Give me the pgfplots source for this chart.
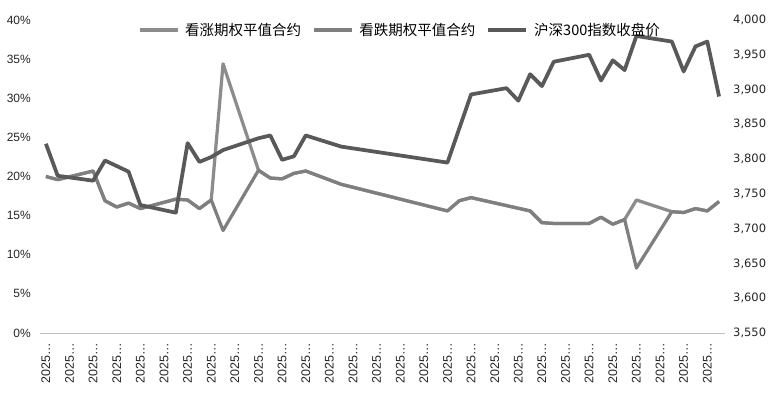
\documentclass[border=0pt]{standalone}
\usepackage{pgfplots}
\usepackage{pgfplotstable}
\pgfplotsset{compat=1.18}
\usepackage{fontspec}
\setmainfont{Liberation Sans}
\newfontfamily\cjk{Noto Sans CJK SC}
\newfontfamily\dejavu{DejaVu Sans}
\definecolor{callc}{HTML}{8C8C8C}
\definecolor{putc}{HTML}{7F7F7F}
\definecolor{hsc}{HTML}{595959}
\definecolor{tickc}{HTML}{262626}

\pgfplotstableread{
x y
0 20.0
1 19.6
4 20.7
5 16.9
6 16.1
7 16.6
8 15.9
11 17.1
12 17.0
13 15.9
14 17.0
15 34.4
18 20.8
19 19.8
20 19.7
21 20.4
22 20.7
25 19.0
34 15.6
35 16.9
36 17.3
41 15.6
42 14.1
43 14.0
46 14.0
47 14.8
48 13.9
49 14.5
50 17.0
53 15.5
54 15.4
55 15.9
56 15.6
57 16.8
}\calltable

\pgfplotstableread{
x y
0 20.0
1 19.6
4 20.7
5 16.9
6 16.1
7 16.6
8 15.9
11 17.1
12 17.0
13 15.9
14 17.0
15 13.1
18 20.8
19 19.8
20 19.7
21 20.4
22 20.7
25 19.0
34 15.6
35 16.9
36 17.3
41 15.6
42 14.1
43 14.0
46 14.0
47 14.8
48 13.9
49 14.5
50 8.3
53 15.5
54 15.4
55 15.9
56 15.6
57 16.8
}\puttable

\pgfplotstableread{
x y
0 3822
1 3776
4 3769
5 3798
6 3790
7 3782
8 3734
11 3723
12 3823
13 3796
14 3803
15 3813
18 3830
19 3834
20 3799
21 3804
22 3834
25 3818
34 3795
36 3893
39 3902
40 3884
41 3922
42 3905
43 3940
46 3950
47 3913
48 3942
49 3928
50 3977
53 3969
54 3926
55 3962
56 3969
57 3890
}\hstable

\begin{document}
\begin{tikzpicture}
\begin{axis}[
  scale only axis, width=685bp, height=313bp,
  xmin=-0.5, xmax=57.5, ymin=0, ymax=40,
  axis x line*=bottom, axis y line*=left,
  x axis line style={draw=black!25, line width=1bp, -},
  y axis line style={draw=none},
  major tick length=0pt,
  xtick={0,2,...,56}, xticklabel={2025…},
  xticklabel style={rotate=90, anchor=east, inner sep=0pt, font=\fontsize{12.5bp}{14bp}\selectfont, text=tickc},
  xticklabel shift=10bp,
  ytick={0,5,...,40},
  yticklabels={0\%,5\%,10\%,15\%,20\%,25\%,30\%,35\%,40\%},
  yticklabel style={anchor=east, inner sep=0pt, font=\fontsize{12bp}{14bp}\selectfont, text=tickc},
  yticklabel shift=9bp,
  clip=false,
]
\addplot[callc, line width=3.25bp, line join=round] table[x=x,y=y] {\calltable};
\addplot[putc, line width=3.25bp, line join=round] table[x=x,y=y] {\puttable};
\end{axis}
\begin{axis}[
  scale only axis, width=685bp, height=313bp,
  xmin=-0.5, xmax=57.5, ymin=3550, ymax=4000,
  axis x line=none, axis y line*=right,
  y axis line style={draw=none},
  major tick length=0pt,
  ytick={3550,3600,...,4000},
  yticklabels={{3,550},{3,600},{3,650},{3,700},{3,750},{3,800},{3,850},{3,900},{3,950},{4,000}},
  yticklabel style={anchor=west, inner sep=0pt, font=\dejavu\fontsize{11.5bp}{14bp}\selectfont, text=tickc},
  yticklabel shift=8bp,
  clip=false,
  legend style={at={(0.524,0.968)}, anchor=center, draw=none, fill=none,
    font=\cjk\fontsize{14.5bp}{17bp}\selectfont, inner sep=0pt, text=black,
    nodes={inner sep=0pt},
    /tikz/every odd column/.append style={column sep=6bp},
    /tikz/every even column/.append style={column sep=11bp}},
  legend columns=3,
  legend image code/.code={\draw[#1] (0bp,0bp) -- (38bp,0bp);},
]
\addlegendimage{callc, line width=3.25bp}
\addlegendentry{看涨期权平值合约}
\addlegendimage{putc, line width=3.25bp}
\addlegendentry{看跌期权平值合约}
\addplot[hsc, line width=3.75bp, line join=round] table[x=x,y=y] {\hstable};
\addlegendentry{沪深300指数收盘价}
\end{axis}
\pgfresetboundingbox
\path (-40bp,-66bp) rectangle (736bp,333bp);
\end{tikzpicture}
\end{document}
